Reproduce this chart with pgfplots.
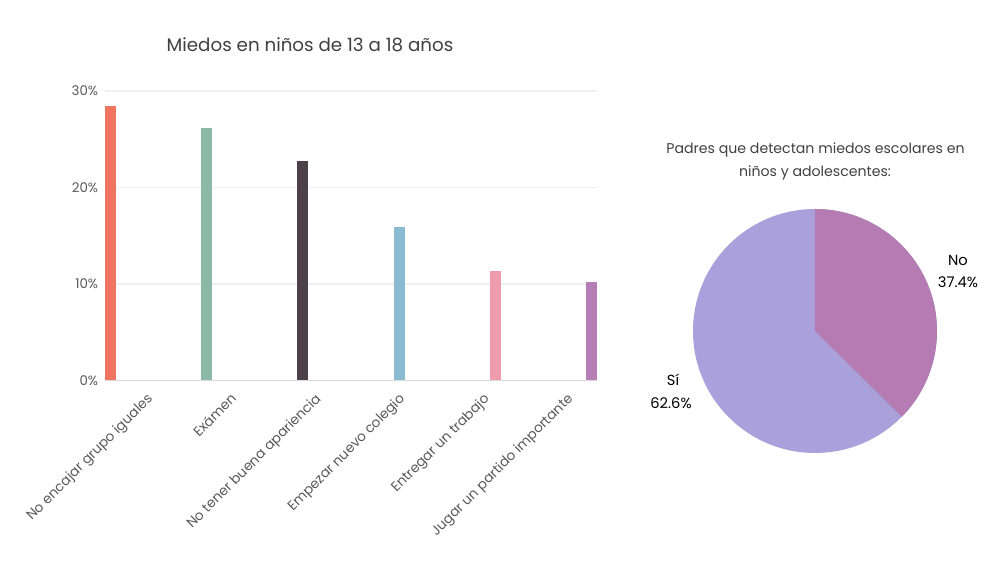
\documentclass[border=0pt]{standalone}
\usepackage{pgfplots}
\pgfplotsset{compat=1.18}
\usepackage{fontspec}
\setmainfont{Poppins}
\definecolor{cA}{HTML}{EF7561}
\definecolor{cB}{HTML}{8BB8A7}
\definecolor{cC}{HTML}{4B4147}
\definecolor{cD}{HTML}{8ABBD1}
\definecolor{cE}{HTML}{EE9BAD}
\definecolor{cF}{HTML}{B57EB5}
\definecolor{pNo}{HTML}{B47CB2}
\definecolor{pSi}{HTML}{A9A0DC}
\definecolor{titlec}{HTML}{404040}
\definecolor{tickc}{HTML}{595959}
\definecolor{gridc}{HTML}{F0F0F0}
\definecolor{axisc}{HTML}{D9D9D9}
\def\pNoVal{37.4}
\def\pSiVal{62.6}
\begin{document}
\begin{tikzpicture}[x=0.75pt,y=0.75pt]
\path[use as bounding box] (0,0) rectangle (1000,563);
\node[text=titlec,font=\fontsize{13.7}{16}\selectfont] at (310,518) {Miedos en niños de 13 a 18 años};
\begin{axis}[
  at={(78.75pt,136.875pt)}, anchor=south west,
  scale only axis, width=369pt, height=217.1pt,
  xmin=-0.057, xmax=5.057, ymin=0, ymax=30,
  ytick={0,10,20,30},
  yticklabel={\pgfmathprintnumber{\tick}\%},
  /pgf/number format/assume math mode=true,
  yticklabel style={text=tickc, font=\fontsize{10}{12}\selectfont, anchor=east, inner sep=0pt, xshift=-5pt},
  xtick={0.25,1.12,2.00,2.87,3.75,4.62},
  xticklabels={No encajar grupo iguales, Exámen, No tener buena apariencia, Empezar nuevo colegio, Entregar un trabajo, Jugar un partido importante},
  xticklabel style={rotate=45, anchor=north east, inner sep=0pt, yshift=-12pt, text=tickc, font=\fontsize{10.2}{12}\selectfont},
  major tick length=0pt,
  ymajorgrids, grid style={draw=gridc, line width=0.8pt},
  axis line style={draw=none},
  clip=false,
]
\addplot[ybar, bar shift=0pt, bar width=0.1145, fill=cA, draw=none] coordinates {(0,28.4)};
\addplot[ybar, bar shift=0pt, bar width=0.1145, fill=cB, draw=none] coordinates {(1,26.2)};
\addplot[ybar, bar shift=0pt, bar width=0.1145, fill=cC, draw=none] coordinates {(2,22.8)};
\addplot[ybar, bar shift=0pt, bar width=0.1145, fill=cD, draw=none] coordinates {(3,15.9)};
\addplot[ybar, bar shift=0pt, bar width=0.1145, fill=cE, draw=none] coordinates {(4,11.3)};
\addplot[ybar, bar shift=0pt, bar width=0.1145, fill=cF, draw=none] coordinates {(5,10.2)};
\draw[axisc, line width=0.8pt] (rel axis cs:0,0) -- (rel axis cs:1,0);
\end{axis}
\node[text=titlec,font=\fontsize{10.6}{13}\selectfont] at (815.5,413) {Padres que detectan miedos escolares en};
\node[text=titlec,font=\fontsize{10.6}{13}\selectfont] at (815,389.7) {niños y adolescentes:};
\pgfmathsetmacro{\angNo}{90-\pNoVal*3.6}
\begin{axis}[
  at={(611.25pt,174pt)}, anchor=center,
  scale only axis, width=183pt, height=183pt,
  xmin=-1, xmax=1, ymin=-1, ymax=1,
  hide axis, clip=false,
]
\fill[pSi] (axis cs:0,0) -- (axis cs:0,1) arc[start angle=90, end angle=\angNo-360, radius=91.5pt] -- cycle;
\fill[pNo] (axis cs:0,0) -- (axis cs:0,1) arc[start angle=90, end angle=\angNo, radius=91.5pt] -- cycle;
\node[text=black,font=\fontsize{11}{13}\selectfont] at (axis cs:1.172,0.582) {No};
\node[text=black,font=\fontsize{11}{13}\selectfont] at (axis cs:1.172,0.396) {\pNoVal\%};
\node[text=black,font=\fontsize{11}{13}\selectfont] at (axis cs:-1.164,-0.402) {Sí};
\node[text=black,font=\fontsize{11}{13}\selectfont] at (axis cs:-1.18,-0.588) {\pSiVal\%};
\end{axis}
\end{tikzpicture}
\end{document}
